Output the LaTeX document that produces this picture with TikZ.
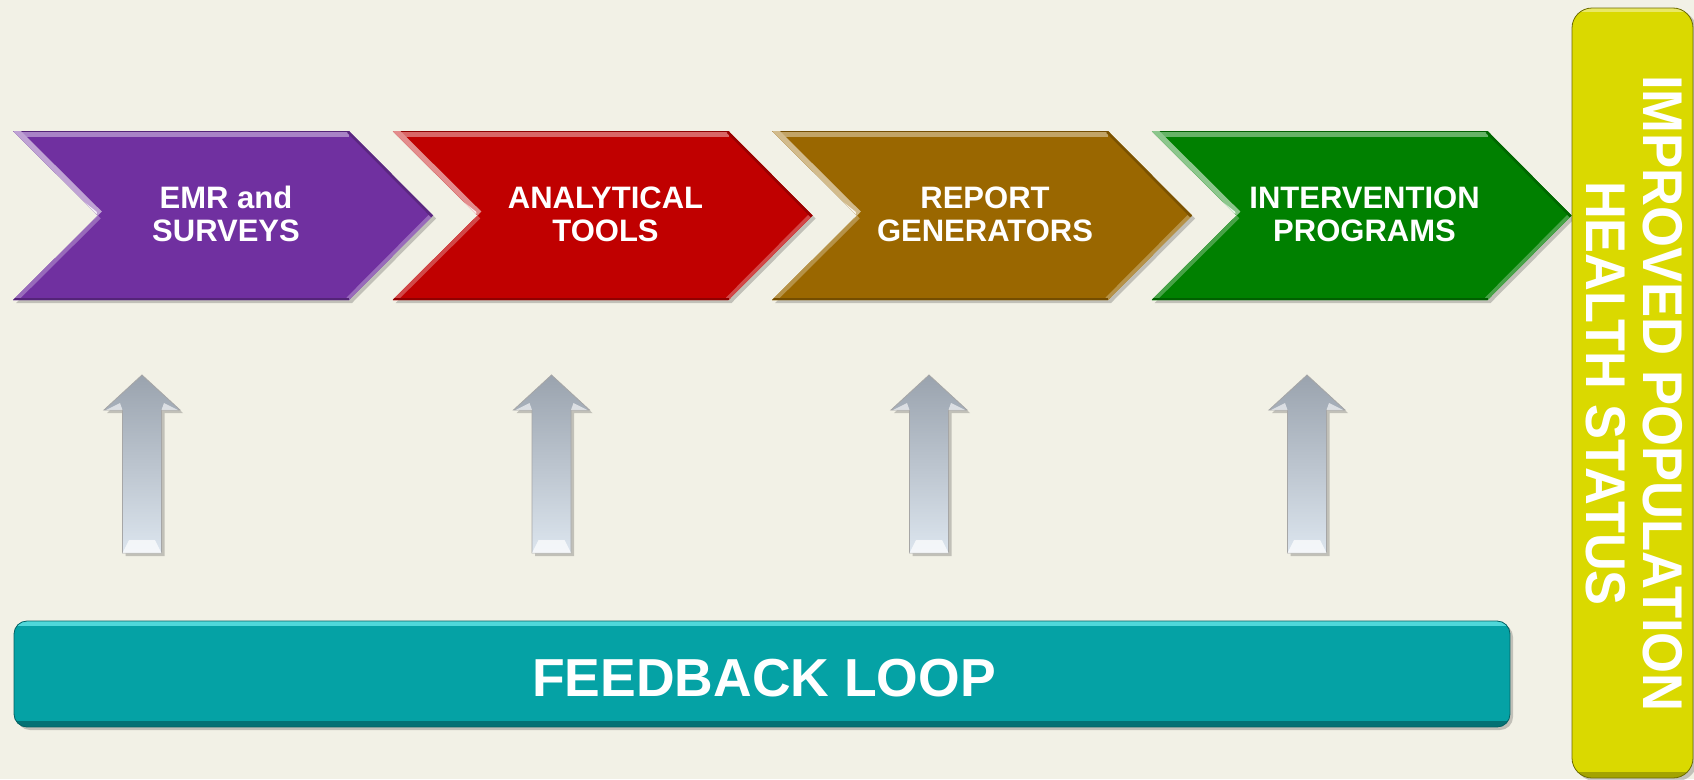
\documentclass[tikz,border=0pt]{standalone}
\usepackage{fontspec}
\setmainfont{Liberation Sans}
\definecolor{bg}{HTML}{F2F1E6}
\definecolor{cpurple}{HTML}{7030A0}
\definecolor{cred}{HTML}{C00000}
\definecolor{cgold}{HTML}{9A6700}
\definecolor{cgreen}{HTML}{008000}
\definecolor{cteal}{HTML}{05A2A5}
\definecolor{cyellow}{HTML}{DAD900}
\definecolor{arrtop}{HTML}{9AA3AE}
\definecolor{arrbot}{HTML}{DCE5EE}
\tikzset{
  chevtext/.style={text=white, font=\bfseries\fontsize{31}{33}\selectfont, align=center, inner sep=0pt},
  statustext/.style={rotate=-90, anchor=base, text=white, font=\bfseries\fontsize{56}{60}\selectfont, inner sep=0pt},
  shadowfill/.style={fill=black, opacity=0.2},
  arrowbody/.style={top color=arrtop, bottom color=arrbot, draw=gray!70, line width=0.8},
}
\newcommand\chevronshape[4]{% #1 x0, #2 colour, #3 name, #4 text
  \begin{scope}[shift={(#1,0)}]
    \fill[shadowfill] (3,134) -- (339,134) -- (423,218.5) -- (339,303) -- (3,303) -- (88,218.5) -- cycle;
    \begin{scope}
      \clip (0,131) -- (336,131) -- (420,215.5) -- (336,300) -- (0,300) -- (85,215.5) -- cycle;
      \fill[#2] (0,125) rectangle (425,305);
      \draw[#2!60!white, line width=11] (0,131) -- (336,131);
      \draw[#2!75!black, line width=2.5] (0,131) -- (336,131);
      \draw[#2!72!white, line width=8] (85,215.5) -- (0,300);
      \draw[#2!72!white, line width=7] (420,215.5) -- (336,300);
      \draw[#2!80!black, line width=5] (336,131) -- (420,215.5);
      \draw[#2!75!black, line width=4] (0,300) -- (336,300);
      \draw[#2!45!white, line width=11] (0,131) -- (85,215.5);
      \draw[white, opacity=0.85, line width=4, line cap=round] (50,188) -- (82,213);
    \end{scope}
    \node[chevtext] (#3) at (213,214) {#4};
  \end{scope}
}
\newcommand\feedarrow[2]{% #1 centre x, #2 name
  \fill[shadowfill] (#1+3,378) -- (#1+41,413) -- (#1+22.5,413) -- (#1+22.5,556) -- (#1-16.5,556) -- (#1-16.5,413) -- (#1-35,413) -- cycle;
  \path[arrowbody] (#1,375) -- (#1+38,410) -- (#1+19.5,410) -- (#1+19.5,553) -- (#1-19.5,553) -- (#1-19.5,410) -- (#1-38,410) -- cycle;
  \fill[white, opacity=0.7] (#1-19.5,553) -- (#1-13,540) -- (#1+13,540) -- (#1+19.5,553) -- cycle;
  \fill[white, opacity=0.6] (#1-36,410) -- (#1-22,403) -- (#1-19.5,410) -- cycle;
  \fill[white, opacity=0.6] (#1+36,410) -- (#1+22,403) -- (#1+19.5,410) -- cycle;
  \coordinate (#2) at (#1,465);
}
\begin{document}
\begin{tikzpicture}[x=1pt, y=-1pt]
  \fill[bg] (0,0) rectangle (1694,779);
  \useasboundingbox (0,0) rectangle (1694,779);

  \chevronshape{13}{cpurple}{emr}{EMR and\\SURVEYS}
  \chevronshape{392.5}{cred}{tools}{ANALYTICAL\\TOOLS}
  \chevronshape{772}{cgold}{reports}{REPORT\\GENERATORS}
  \chevronshape{1151.5}{cgreen}{programs}{INTERVENTION\\PROGRAMS}

  \feedarrow{142}{a1}
  \feedarrow{551.5}{a2}
  \feedarrow{929}{a3}
  \feedarrow{1307}{a4}

  % feedback loop bar
  \fill[shadowfill, rounded corners=13] (17,624) rectangle (1513,730);
  \begin{scope}
    \clip[rounded corners=13] (14,621) rectangle (1510,727);
    \fill[cteal] (14,621) rectangle (1510,727);
    \fill[cteal!60!cyan!70!white] (14,621) rectangle (1510,626);
    \fill[cteal!70!black] (14,721) rectangle (1510,727);
  \end{scope}
  \draw[cteal!60!black, line width=0.8, rounded corners=13] (14,621) rectangle (1510,727);
  \node[text=white, font=\bfseries\fontsize{53.5}{58}\selectfont, inner sep=0pt] (feedback) at (764,678) {FEEDBACK LOOP};

  % improved population health status bar
  \fill[shadowfill, rounded corners=20] (1575,11) rectangle (1697,781);
  \begin{scope}
    \clip[rounded corners=20] (1572,8) rectangle (1693,778);
    \fill[cyellow] (1572,8) rectangle (1693,778);
    \fill[cyellow!60!white] (1572,8) rectangle (1693,12);
    \fill[cyellow!75!black] (1572,772) rectangle (1693,778);
  \end{scope}
  \draw[cyellow!50!black, line width=0.8, rounded corners=20] (1572,8) rectangle (1693,778);
  \node[statustext, xscale=0.94] (status1) at (1643,393.5) {IMPROVED POPULATION};
  \node[statustext, xscale=0.935] (status2) at (1586,393.5) {HEALTH STATUS};
\end{tikzpicture}
\end{document}
